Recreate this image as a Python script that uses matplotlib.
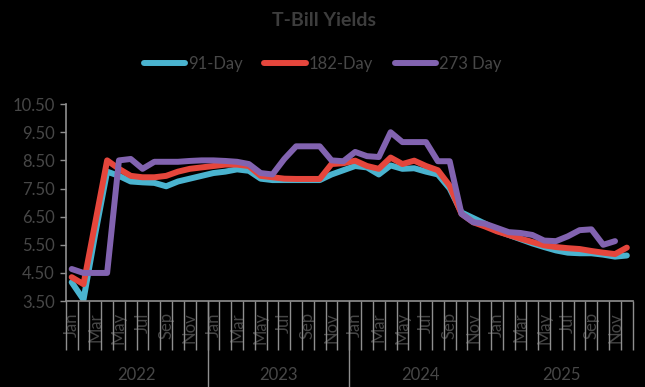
import matplotlib
matplotlib.use('Agg')
import matplotlib.pyplot as plt
import matplotlib.transforms as mtransforms
import numpy as np

plt.rcParams['font.family'] = ['Lato', 'DejaVu Sans']

# Data: monthly T-Bill yields, Jan 2022 - Dec 2025
years = ['2022', '2023', '2024', '2025']
month_names = ['Jan', 'Feb', 'Mar', 'Apr', 'May', 'Jun',
               'Jul', 'Aug', 'Sep', 'Oct', 'Nov', 'Dec']

t91 = [4.17, 3.55, 5.90, 8.10, 7.95, 7.75, 7.72, 7.70, 7.58, 7.75, 7.85, 7.95,
       8.05, 8.10, 8.18, 8.13, 7.85, 7.80, 7.80, 7.80, 7.80, 7.80, 8.00, 8.15,
       8.30, 8.25, 8.00, 8.32, 8.20, 8.22, 8.10, 8.00, 7.50, 6.65, 6.45, 6.25,
       6.00, 5.85, 5.70, 5.55, 5.42, 5.30, 5.22, 5.20, 5.20, 5.15, 5.08, 5.12]

t182 = [4.35, 4.10, 6.30, 8.50, 8.20, 7.95, 7.90, 7.90, 7.95, 8.10, 8.20, 8.25,
        8.30, 8.35, 8.35, 8.30, 7.95, 7.90, 7.85, 7.84, 7.84, 7.84, 8.37, 8.40,
        8.49, 8.30, 8.20, 8.60, 8.37, 8.49, 8.30, 8.15, 7.60, 6.60, 6.30, 6.15,
        5.98, 5.85, 5.72, 5.60, 5.48, 5.42, 5.38, 5.35, 5.28, 5.22, 5.17, 5.40]

t273 = [4.64, 4.50, 4.50, 4.50, 8.50, 8.55, 8.20, 8.45, 8.45, 8.45, 8.48, 8.50,
        8.50, 8.48, 8.45, 8.37, 8.05, 8.00, 8.55, 9.00, 9.00, 9.00, 8.50, 8.47,
        8.80, 8.65, 8.62, 9.50, 9.15, 9.15, 9.15, 8.47, 8.47, 6.60, 6.30, 6.25,
        6.10, 5.95, 5.92, 5.85, 5.65, 5.63, 5.80, 6.02, 6.05, 5.50, 5.63, np.nan]

series = [('91-Day', t91, '#4AB3CF'),
          ('182-Day', t182, '#E5463C'),
          ('273 Day', t273, '#8263B0')]

TEXT = '#474747'
AXIS = '#8f8f8f'

fig = plt.figure(figsize=(6.45, 3.87), dpi=100, facecolor='black')
ax = fig.add_axes([0.102, 0.222, 0.879, 0.509], facecolor='black')

x = np.arange(len(t91))
for name, vals, color in series:
    ax.plot(x, vals, color=color, linewidth=4.3, label=name,
            solid_capstyle='round', solid_joinstyle='round')

ax.set_xlim(-0.5, len(x) - 0.5)
ax.set_ylim(3.5, 10.5)
yt = np.arange(3.5, 10.51, 1.0)
ax.set_yticks(yt, [f'{v:.2f}' for v in yt])

# month labels every other month, tick lines at each category boundary
labels = [month_names[i % 12] for i in range(0, len(x), 2)]
ax.set_xticks(x[::2], labels, rotation=90)
ax.set_xticks(np.arange(-0.5, len(x), 1.0), minor=True)
ax.tick_params(axis='x', which='major', length=0, pad=8, labelsize=12,
               labelcolor=TEXT)
ax.tick_params(axis='x', which='minor', length=35, width=1, color=AXIS)
ax.tick_params(axis='y', length=4, width=1, color=AXIS, labelsize=12,
               labelcolor=TEXT, pad=4)

for s in ['top', 'right']:
    ax.spines[s].set_visible(False)
for s in ['left', 'bottom']:
    ax.spines[s].set_color(AXIS)
    ax.spines[s].set_linewidth(1.2)

# year groups
trans = mtransforms.blended_transform_factory(ax.transData, ax.transAxes)
for k, yr in enumerate(years):
    ax.text(k * 12 + 5.5, -0.376, yr, transform=trans, ha='center',
            va='center', fontsize=12, color=TEXT)
for b in [11.5, 23.5]:
    ax.plot([b, b], [0, -0.45], transform=trans, color=AXIS, linewidth=1,
            clip_on=False)

fig.text(0.503, 1 - 20 / 387, 'T-Bill Yields', ha='center', va='center',
         fontsize=14, fontweight='bold', color='#3d3d3d')

leg = fig.legend(loc='center', bbox_to_anchor=(0.5, 1 - 64 / 387), ncol=3,
                 frameon=False, fontsize=12, handlelength=2.5,
                 handletextpad=0.15, columnspacing=1.3)
for t in leg.get_texts():
    t.set_color(TEXT)
for h in leg.get_lines():
    h.set_solid_capstyle('round')

fig.savefig('out.png', dpi=100, facecolor='black')
